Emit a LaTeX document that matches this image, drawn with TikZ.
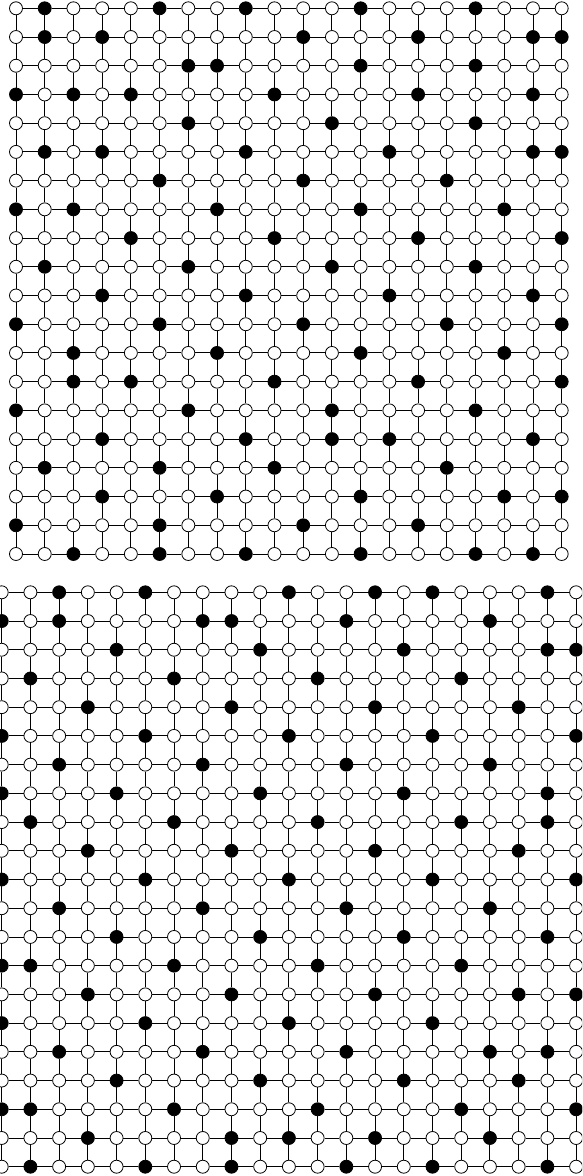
\documentclass[tikz,border=0pt]{standalone}
\begin{document}
\begin{tikzpicture}[x=1pt,y=-1pt,
  wnode/.style={circle,draw=black,fill=white,minimum size=13pt,inner sep=0pt,line width=0.8pt},
  bnode/.style={wnode,fill=black},
  edge/.style={draw=black,line width=0.9pt}]
\useasboundingbox (0,0) rectangle (582,1176);
\clip (0,0) rectangle (582,1176);
% black nodes of the top grid: row / columns
\foreach \ri/\cl in {0/{1,5,8,12,16},1/{1,3,10,14,18,19},2/{6,7,12,16},3/{0,2,4,9,14,18},
  4/{6,11,16},5/{1,3,8,13,18,19},6/{5,10,15},7/{0,2,7,12,17},8/{4,9,14,19},9/{1,6,11,16},
  10/{3,8,13,18},11/{0,5,10,15,19},12/{2,7,12,17},13/{2,4,9,14,19},14/{0,6,11,16},
  15/{3,8,11,13,18},16/{1,5,9,15},17/{3,7,12,17,19},18/{0,5,10,14},19/{2,5,8,12,16,18}}{
  \foreach \ci in \cl {\expandafter\gdef\csname T\ci-\ri\endcsname{}}}
% black nodes of the bottom grid
\foreach \ri/\cl in {0/{2,5,10,13,15,19},1/{0,2,7,8,12,17},2/{4,9,14,19,20},3/{1,6,11,16},
  4/{3,8,13,18},5/{0,5,10,15,20},6/{2,7,12,17},7/{0,4,9,14,19},8/{1,6,11,16,19},
  9/{3,8,13,18},10/{0,5,10,15,20},11/{2,7,12,17},12/{4,9,14,19},13/{0,1,6,11,16},
  14/{3,8,13,18,20},15/{0,5,10,15},16/{2,7,12,17,19},17/{4,9,14,18},18/{0,1,6,11,16,20},
  19/{3,8,10,13,17},20/{1,5,8,12,15,19}}{
  \foreach \ci in \cl {\expandafter\gdef\csname B\ci-\ri\endcsname{}}}
% top grid nodes
\foreach \i in {0,...,19}{
  \foreach \j in {0,...,19}{
    \ifcsname T\i-\j\endcsname\def\st{bnode}\else\def\st{wnode}\fi
    \node[\st] (t-\i-\j) at ({16+28.72*\i},{8.3+28.72*\j}) {};
  }}
% bottom grid nodes
\foreach \i in {0,...,20}{
  \foreach \j in {0,...,20}{
    \ifcsname B\i-\j\endcsname\def\st{bnode}\else\def\st{wnode}\fi
    \node[\st] (b-\i-\j) at ({1.7+28.72*\i},{592.3+28.72*\j}) {};
  }}
% top grid edges
\foreach \i in {0,...,18}{
  \pgfmathtruncatemacro\k{\i+1}
  \foreach \j in {0,...,19}{
    \draw[edge] (t-\i-\j) -- (t-\k-\j);
    \draw[edge] (t-\j-\i) -- (t-\j-\k);
  }}
% bottom grid edges
\foreach \i in {0,...,19}{
  \pgfmathtruncatemacro\k{\i+1}
  \foreach \j in {0,...,20}{
    \draw[edge] (b-\i-\j) -- (b-\k-\j);
    \draw[edge] (b-\j-\i) -- (b-\j-\k);
  }}
\end{tikzpicture}
\end{document}
